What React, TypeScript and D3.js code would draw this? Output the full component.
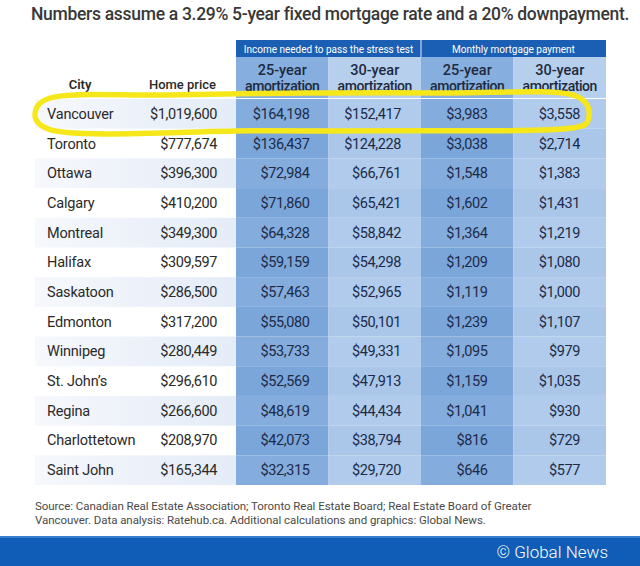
import React from "react";
import * as d3 from "d3";

const title = "Numbers assume a 3.29% 5-year fixed mortgage rate and a 20% downpayment.";
const cities = ["Vancouver", "Toronto", "Ottawa", "Calgary", "Montreal", "Halifax", "Saskatoon", "Edmonton", "Winnipeg", "St. John’s", "Regina", "Charlottetown", "Saint John"];
const homePrices = [1019600, 777674, 396300, 410200, 349300, 309597, 286500, 317200, 280449, 296610, 266600, 208970, 165344];
const income25 = [164198, 136437, 72984, 71860, 64328, 59159, 57463, 55080, 53733, 52569, 48619, 42073, 32315];
const income30 = [152417, 124228, 66761, 65421, 58842, 54298, 52965, 50101, 49331, 47913, 44434, 38794, 29720];
const monthly25 = [3983, 3038, 1548, 1602, 1364, 1209, 1119, 1239, 1095, 1159, 1041, 816, 646];
const monthly30 = [3558, 2714, 1383, 1431, 1219, 1080, 1000, 1107, 979, 1035, 930, 729, 577];
const groupHeaders = ["Income needed to pass the stress test", "Monthly mortgage payment"];
const colKeys = ["i25", "i30", "m25", "m30"];
const subHeaderTop = ["25-year", "30-year", "25-year", "30-year"];
const subHeaderBottom = ["amortization", "amortization", "amortization", "amortization"];
const highlightCity = "Vancouver";
const sourceLines = [
  "Source: Canadian Real Estate Association; Toronto Real Estate Board; Real Estate Board of Greater",
  "Vancouver. Data analysis: Ratehub.ca. Additional calculations and graphics: Global News.",
];
const credit = "© Global News";

const W = 640;
const H = 566;
const FONT = "Roboto, 'Open Sans', sans-serif";

export default function App() {
  const seriesCols = [income25, income30, monthly25, monthly30];
  const fmt = d3.format("$,");
  const y = d3.scaleBand<string>().domain(cities).range([99, 485]);
  const x = d3.scaleBand<string>().domain(colKeys).range([236, 606]);
  const bw = x.bandwidth();
  const rh = y.bandwidth();
  const leftX0 = 35;
  const leftX1 = 236;
  const groupTop = 40;
  const groupBottom = 57;
  const subBottom = 98;
  const dark = ["#7ba6da", "#aac7ea", "#7ba6da", "#aac7ea"];
  const headDark = ["#86aede", "#b6cfed", "#86aede", "#b6cfed"];
  const padRight = [19, 20, 26, 26];

  const T = y(highlightCity)!;
  const B = T + rh;
  const L = 36;
  const R = 588;
  const pts: [number, number][] = [
    [L + 14, T - 1],
    [L + 130, T - 4],
    [L + 270, T - 6],
    [R - 140, T - 6],
    [R - 12, T - 3],
    [R, T + 8],
    [R - 1, B - 6],
    [R - 14, B - 1],
    [R - 200, B + 2],
    [L + 220, B + 2],
    [L + 14, B + 1],
    [L, B - 9],
    [L + 1, T + 8],
  ];
  const hlPath = d3.line().curve(d3.curveCatmullRomClosed.alpha(0.5))(pts) || "";

  return (
    <svg width={W} height={H} style={{ position: "absolute", left: 0, top: 0, background: "#fff" }} fontFamily={FONT}>
      <defs>
        <linearGradient id="stripe" x1="0" x2="1" y1="0" y2="0">
          <stop offset="0" stopColor="#f6f8fc" />
          <stop offset="1" stopColor="#e4ecf7" />
        </linearGradient>
      </defs>
      <rect width={W} height={H} fill="#fff" />
      <text x={330} y={20} textAnchor="middle" fontSize={17.5} fontWeight={500} fill="#383838" letterSpacing={-0.3}>
        {title}
      </text>

      {groupHeaders.map((g, i) => {
        const gx0 = x(colKeys[i * 2])!;
        return (
          <g key={g}>
            <rect x={gx0} y={groupTop} width={bw * 2} height={groupBottom - groupTop} fill="#1b5fb4" />
            <text x={gx0 + bw} y={groupTop + 12.5} textAnchor="middle" fontSize={10} fill="#fff">
              {g}
            </text>
          </g>
        );
      })}
      <line x1={x("m25")!} x2={x("m25")!} y1={groupTop} y2={groupBottom} stroke="#e8f0fa" strokeWidth={1} />

      {colKeys.map((k, i) => (
        <g key={k}>
          <rect x={x(k)!} y={groupBottom} width={bw} height={subBottom - groupBottom} fill={headDark[i]} />
          <text x={x(k)! + bw / 2} y={75} textAnchor="middle" fontSize={14.5} fontWeight={500} fill="#1d2a40">
            {subHeaderTop[i]}
          </text>
          <text x={x(k)! + bw / 2} y={91} textAnchor="middle" fontSize={14} fontWeight={500} fill="#1d2a40" letterSpacing={-0.45}>
            {subHeaderBottom[i]}
          </text>
        </g>
      ))}

      <text x={80} y={89} textAnchor="middle" fontSize={13} fontWeight={600} fill="#2a2a2a">
        City
      </text>
      <text x={216} y={89} textAnchor="end" fontSize={13} fontWeight={500} fill="#2a2a2a">
        Home price
      </text>

      {cities.map((c, r) => {
        const ry = y(c)!;
        const cy = ry + rh / 2 + 5;
        return (
          <g key={c}>
            {r % 2 === 0 && <rect x={leftX0} y={ry} width={leftX1 - leftX0} height={rh} fill="url(#stripe)" />}
            {colKeys.map((k, i) => (
              <g key={k}>
                <rect x={x(k)!} y={ry} width={bw} height={rh} fill={dark[i]} />
                {r % 2 === 0 && <rect x={x(k)!} y={ry} width={bw} height={rh} fill="#fff" opacity={0.07} />}
                <text x={x(k)! + bw - padRight[i]} y={cy} textAnchor="end" fontSize={14.5} fill="#1c2b4a" letterSpacing={-0.4}>
                  {fmt(seriesCols[i][r])}
                </text>
              </g>
            ))}
            <text x={47} y={cy} fontSize={14.5} fill="#2a2a2a" letterSpacing={-0.2}>
              {c}
            </text>
            <text x={217} y={cy} textAnchor="end" fontSize={14.5} fill="#2a2a2a" letterSpacing={-0.4}>
              {fmt(homePrices[r])}
            </text>
          </g>
        );
      })}

      <path d={hlPath} fill="none" stroke="#f6e71b" strokeWidth={5.5} strokeLinejoin="round" />

      {sourceLines.map((s, i) => (
        <text key={i} x={35} y={510 + i * 14} fontSize={11.5} fill="#4a4a4a" letterSpacing={-0.05}>
          {s}
        </text>
      ))}

      <rect x={0} y={536} width={W} height={H - 536} fill="#0f5db6" />
      <rect x={0} y={536} width={W} height={2} fill="#3a7fcf" />
      <text x={608} y={558} textAnchor="end" fontSize={17} fontWeight={300} fill="#fff">
        {credit}
      </text>
    </svg>
  );
}
